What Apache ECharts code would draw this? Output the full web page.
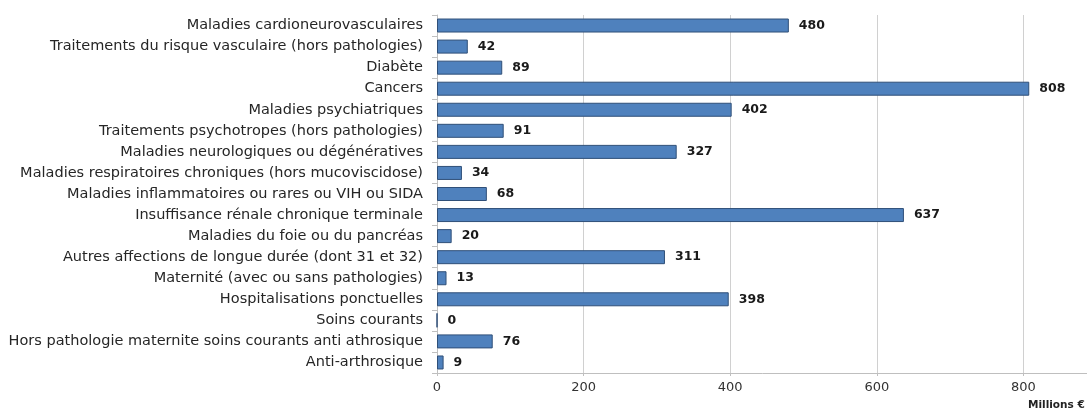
<!DOCTYPE html>
<html>
<head>
<meta charset="utf-8">
<script src="https://cdn.jsdelivr.net/npm/echarts@6/dist/echarts.min.js"></script>
<style>html,body{margin:0;padding:0;background:#fff;}#c{width:1087px;height:411px;}</style>
</head>
<body>
<div id="c"></div>
<script>
const categories = [
  "Maladies cardioneurovasculaires",
  "Traitements du risque vasculaire (hors pathologies)",
  "Diabète",
  "Cancers",
  "Maladies psychiatriques",
  "Traitements psychotropes (hors pathologies)",
  "Maladies neurologiques ou dégénératives",
  "Maladies respiratoires chroniques (hors mucoviscidose)",
  "Maladies inflammatoires ou rares ou VIH ou SIDA",
  "Insuffisance rénale chronique terminale",
  "Maladies du foie ou du pancréas",
  "Autres affections de longue durée (dont 31 et 32)",
  "Maternité (avec ou sans pathologies)",
  "Hospitalisations ponctuelles",
  "Soins courants",
  "Hors pathologie maternite soins courants anti athrosique",
  "Anti-arthrosique"
];
const values = [480, 42, 89, 808, 402, 91, 327, 34, 68, 637, 20, 311, 13, 398, 0, 76, 9];
const xTicks = [0, 200, 400, 600, 800, 1000];
const axisTitle = "Millions €";

const chart = echarts.init(document.getElementById('c'), null, {renderer: 'canvas'});
chart.setOption({
  animation: false,
  backgroundColor: '#ffffff',
  title: {
    text: axisTitle,
    left: 1028, top: 400, padding: 0,
    textStyle: {fontFamily: 'DejaVu Sans', fontSize: 10.5, fontWeight: 'bold', color: '#222'}
  },
  grid: {left: 437, top: 15, bottom: 38, width: 733, containLabel: false, outerBoundsMode: 'none'},
  xAxis: {
    type: 'value',
    min: xTicks[0], max: xTicks[xTicks.length - 1], interval: 200,
    axisLine: {show: true, lineStyle: {color: '#bfbfbf', width: 1}},
    axisTick: {show: true, length: 3, lineStyle: {color: '#bfbfbf'}},
    splitLine: {show: true, lineStyle: {color: '#d0d0d0', width: 1}},
    axisLabel: {color: '#333', fontFamily: 'DejaVu Sans', fontSize: 13, margin: 8}
  },
  yAxis: {
    type: 'category',
    data: categories,
    inverse: true,
    axisLine: {show: true, lineStyle: {color: '#bfbfbf', width: 1}},
    axisTick: {show: true, length: 5, lineStyle: {color: '#bfbfbf'}},
    axisLabel: {color: '#262626', fontFamily: 'DejaVu Sans', fontSize: 14.5, margin: 14},
    splitLine: {show: false}
  },
  series: [{
    type: 'bar',
    data: values,
    barWidth: 14,
    itemStyle: {color: '#4f81bd', borderColor: '#2f4f78', borderWidth: 1},
    label: {
      show: true, position: 'right', distance: 10,
      color: '#1a1a1a', fontFamily: 'DejaVu Sans', fontWeight: 'bold', fontSize: 12.5
    }
  }]
});
</script>
</body>
</html>
